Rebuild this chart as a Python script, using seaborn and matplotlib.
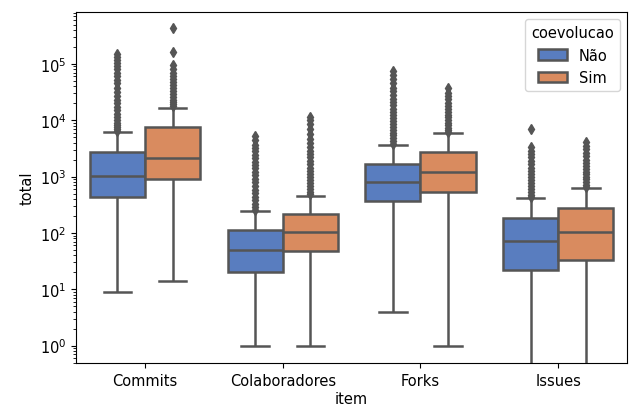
#%% Prepare data
import pandas as pd
import numpy as np
import matplotlib
matplotlib.use("Agg")
import matplotlib.pyplot as plt
import seaborn as sns

items = ["Commits", "Colaboradores", "Forks", "Issues"]
groups = ["Não", "Sim"]
yticks = [1, 10, 100, 1000, 10000, 100000]

# five-number summaries: (low whisker, q1, median, q3, high whisker)
commits_nao = (9, 428, 1033, 2720, 6100)
commits_sim = (14, 890, 2150, 7550, 16600)
colab_nao = (1, 20, 50, 112, 245)
colab_sim = (1, 48, 105, 216, 457)
forks_nao = (4, 363, 809, 1667, 3600)
forks_sim = (1, 525, 1186, 2760, 5830)
issues_nao = (0, 22, 73, 181, 415)
issues_sim = (0, 33, 105, 276, 625)

# outliers (fliers) above the whiskers
commits_nao_out = [6500, 7000, 7600, 8300, 9000, 10000, 11500, 13000, 15000, 17000,
                   20000, 23000, 27000, 32000, 38000, 45000, 52000, 60000, 70000,
                   80000, 92000, 105000, 118000, 130000, 149000]
commits_sim_out = [18000, 19500, 21000, 23000, 26000, 29000, 33000, 37000, 42000,
                   48000, 55000, 62000, 70000, 80000, 95000, 160000, 440000]
colab_nao_out = [260, 290, 330, 380, 440, 510, 590, 680, 790, 910, 1050, 1200, 1400,
                 1600, 1850, 2100, 2450, 2800, 3200, 3600, 4400, 5300]
colab_sim_out = [490, 540, 600, 680, 770, 870, 990, 1120, 1280, 1450, 1650, 1900,
                 2200, 2500, 2900, 3400, 4000, 4700, 5600, 7000, 8500, 10000, 11200]
forks_nao_out = [3800, 4300, 4800, 5400, 6000, 6700, 7500, 8500, 9600, 11000, 12500,
                 14000, 16000, 18500, 21000, 24000, 28000, 33000, 38000, 45000,
                 55000, 64000, 75000]
forks_sim_out = [6200, 6700, 7300, 8100, 9000, 10000, 11200, 12500, 14000, 16000,
                 18000, 20500, 23500, 27000, 31000, 36600]
issues_nao_out = [430, 480, 540, 610, 690, 780, 880, 1000, 1130, 1280, 1450, 1650,
                  1900, 2200, 2550, 2900, 3300, 6950]
issues_sim_out = [660, 720, 800, 890, 990, 1100, 1230, 1380, 1550, 1750, 2000, 2300,
                  2650, 3050, 3500, 4040]

summaries = {
    ("Commits", "Não"): (commits_nao, commits_nao_out),
    ("Commits", "Sim"): (commits_sim, commits_sim_out),
    ("Colaboradores", "Não"): (colab_nao, colab_nao_out),
    ("Colaboradores", "Sim"): (colab_sim, colab_sim_out),
    ("Forks", "Não"): (forks_nao, forks_nao_out),
    ("Forks", "Sim"): (forks_sim, forks_sim_out),
    ("Issues", "Não"): (issues_nao, issues_nao_out),
    ("Issues", "Sim"): (issues_sim, issues_sim_out),
}


def expand(stats, outliers):
    # observations that reproduce the summary (blocks of 40 keep the quartiles fixed)
    lo, q1, med, q3, hi = stats
    return [lo] + [q1] * 40 + [med] * 40 + [q3] * 40 + [hi] + list(outliers)


rows = []
for (item, grp), (stats, outs) in summaries.items():
    for v in expand(stats, outs):
        rows.append({"item": item, "coevolucao": grp, "total": v})
data = pd.DataFrame(rows)

#%% Plot
plt.rcParams["font.size"] = 10.5
fig = plt.figure(figsize=(6.29, 4.10), dpi=100)
ax = fig.add_axes([0.121, 0.112, 0.876, 0.856])

gray = "#555555"
sns.boxplot(data=data, x="item", y="total", hue="coevolucao", order=items,
            hue_order=groups, palette="muted", linecolor=gray, linewidth=1.8,
            fliersize=5.5,
            flierprops={"marker": "d", "markerfacecolor": gray, "markeredgecolor": gray},
            ax=ax)
ax.set_yscale("log")
ax.set_yticks(yticks)
ax.set_ylim(0.49, 8.3e5)
ax.set_xlabel("item", labelpad=2)
sns.move_legend(ax, "upper right", title="coevolucao")

fig.savefig("out.png", dpi=100)
